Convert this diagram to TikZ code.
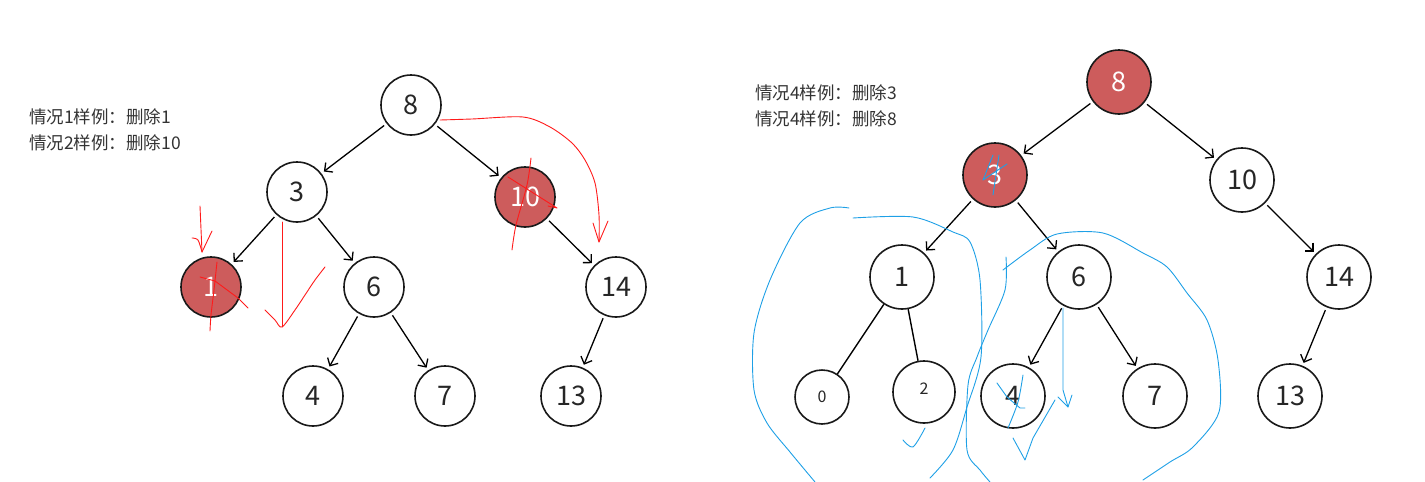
\documentclass[tikz,border=0pt]{standalone}
\usepackage{fontspec}
\setmainfont{Noto Sans CJK SC}
\usetikzlibrary{arrows.meta}
\definecolor{delred}{HTML}{CD5C5C}
\definecolor{penred}{HTML}{FF1A1A}
\definecolor{penblue}{HTML}{1EA0E6}
\definecolor{inkgray}{HTML}{333333}
\tikzset{
  treenode/.style={circle,draw=black!90,line width=1.6pt,fill=white,minimum size=#1,
    inner sep=0pt,font=\fontsize{27}{27}\selectfont,text=black!85},
  treenode/.default={60pt},
  delnode/.style={treenode=#1,fill=delred,text=white},
  delnode/.default={60pt},
  treearrow/.style={-{Straight Barb[length=6pt,width=12pt]},line width=1.3pt,
    shorten <=3pt,shorten >=3pt},
  treeline/.style={line width=1.4pt},
  redpen/.style={draw=penred,line width=0.9pt,line cap=round,line join=round},
  bluepen/.style={draw=penblue,line width=0.9pt,line cap=round,line join=round},
  caselabel/.style={anchor=west,align=left,inner sep=0pt,
    font=\fontsize{17.5}{26}\selectfont,text=inkgray},
}

\begin{document}
\begin{tikzpicture}[x=1pt,y=-1pt]
  \useasboundingbox (0,0) rectangle (1425,482);
  % left example
  \node[caselabel] (caseA) at (29,130) {情况1样例：删除1\\情况2样例：删除10};
  \node[treenode] (l8) at (411,105) {8};
  \node[treenode] (l3) at (297,192) {3};
  \node[delnode] (l10) at (525,197) {10};
  \node[delnode] (l1) at (211,287) {1};
  \node[treenode] (l6) at (374,287) {6};
  \node[treenode] (l14) at (616,287) {14};
  \node[treenode] (l4) at (313,396) {4};
  \node[treenode] (l7) at (445,396) {7};
  \node[treenode] (l13) at (571,396) {13};
  \draw[treearrow] (l8) -- (l3);
  \draw[treearrow] (l8) -- (l10);
  \draw[treearrow] (l3) -- (l1);
  \draw[treearrow] (l3) -- (l6);
  \draw[treearrow] (l10) -- (l14);
  \draw[treearrow] (l6) -- (l4);
  \draw[treearrow] (l6) -- (l7);
  \draw[treearrow] (l14) -- (l13);
  % red pen marks
  \draw[redpen] (200,206) -- (202,252);
  \draw[redpen] plot[smooth] coordinates {(192,238) (198,240) (202,252)};
  \draw[redpen] (212,231) -- (202,252);
  \draw[redpen] (200,277) -- (215,281) -- (238,298) -- (248,308);
  \draw[redpen] plot[smooth] coordinates {(217,262) (214,290) (211,315) (210,331)};
  \draw[redpen] (282,222) -- (282,327);
  \draw[redpen] plot[smooth] coordinates {(265,310) (275,320) (282,327) (295,310)
    (305,295) (315,280) (325,267)};
  \draw[redpen] plot[smooth] coordinates {(440,120) (472,119) (523,117) (550,127)
    (572,143) (585,160) (595,183) (599,215) (599,242)};
  \draw[redpen] (593,223) -- (599,242) -- (608,221);
  \draw[redpen] (508,177) -- (557,208) -- (548,206);
  \draw[redpen] plot[smooth] coordinates {(531,158) (527,185) (516,225) (512,250)};

  % right example
  \node[caselabel] (caseB) at (755,106) {情况4样例：删除3\\情况4样例：删除8};
  \node[delnode=64pt] (r8) at (1119,82) {8};
  \node[delnode=64pt] (r3) at (995,175) {3};
  \node[treenode=64pt] (r10) at (1242,180) {10};
  \node[treenode=64pt] (r1) at (902,277) {1};
  \node[treenode=64pt] (r6) at (1079,277) {6};
  \node[treenode=64pt] (r14) at (1339,277) {14};
  \node[treenode=54pt,font=\fontsize{16}{16}\selectfont] (r0) at (822,397) {0};
  \node[treenode=62pt,font=\fontsize{16}{16}\selectfont] (r2) at (924,392) {\raisebox{6pt}{2}};
  \node[treenode=64pt] (r4) at (1013,396) {4};
  \node[treenode=64pt] (r7) at (1155,396) {7};
  \node[treenode=64pt] (r13) at (1290,396) {13};
  \draw[treearrow] (r8) -- (r3);
  \draw[treearrow] (r8) -- (r10);
  \draw[treearrow] (r3) -- (r1);
  \draw[treearrow] (r3) -- (r6);
  \draw[treearrow] (r10) -- (r14);
  \draw[treearrow] (r6) -- (r4);
  \draw[treearrow] (r6) -- (r7);
  \draw[treearrow] (r14) -- (r13);
  \draw[treeline] (r1) -- (r0);
  \draw[treeline] (r1) -- (r2);
  % blue pen marks
  \draw[bluepen] (993,155) -- (983,180) -- (1007,164);
  \draw[bluepen] (999,155) -- (993,195);
  \draw[bluepen] plot[smooth] coordinates {(849,208) (830,208) (800,223) (770,280)
    (754,333) (754,390) (767,423) (790,452) (815,482)};
  \draw[bluepen] plot[smooth] coordinates {(853,218) (913,217) (953,232) (970,242)
    (980,280) (981,357) (967,407) (953,450) (930,478)};
  \draw[bluepen] plot[smooth] coordinates {(925,428) (913,447) (903,440)};
  \draw[bluepen] plot[smooth] coordinates {(1003,270) (1030,250) (1057,234) (1103,233)
    (1143,253) (1167,267) (1187,293) (1207,320) (1218,360) (1219,412) (1193,447)
    (1170,462) (1143,480)};
  \draw[bluepen] plot[smooth] coordinates {(1006,257) (1005,290) (988,330) (977,357)
    (968,385) (967,450) (980,470) (990,482)};
  \draw[bluepen] (997,383) -- (1007,397) -- (1020,408) -- (1025,408);
  \draw[bluepen] plot[smooth] coordinates {(1023,375) (1018,402) (1008,428)};
  \draw[bluepen] (1013,438) -- (1025,460) -- (1033,438) -- (1055,400);
  \draw[bluepen] (1063,308) -- (1063,390) -- (1068,407);
  \draw[bluepen] (1058,397) -- (1068,407) -- (1072,395);
\end{tikzpicture}
\end{document}
